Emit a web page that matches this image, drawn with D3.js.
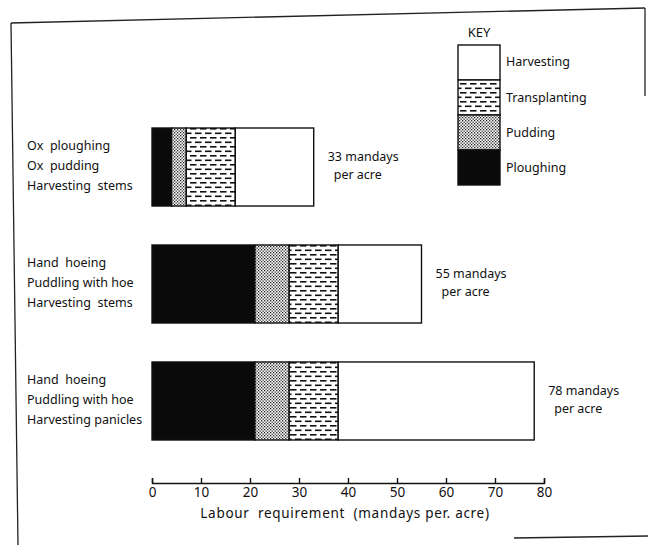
<!DOCTYPE html>
<html>
<head>
<meta charset="utf-8">
<script src="https://cdn.jsdelivr.net/npm/d3@7"></script>
<style>
  html, body { margin: 0; padding: 0; background: #fff; }
  svg text { font-family: "Noto Sans", "DejaVu Sans", sans-serif; fill: #111; }
</style>
</head>
<body>
<div id="chart"></div>
<script>
{
  const width = 648;
  const height = 545;

  // systems (rows), top to bottom
  const systems = ["ox", "hoe_stems", "hoe_panicles"];
  const systemLabels = [
    ["Ox  ploughing", "Ox  pudding", "Harvesting  stems"],
    ["Hand  hoeing", "Puddling with hoe", "Harvesting  stems"],
    ["Hand  hoeing", "Puddling with hoe", "Harvesting panicles"]
  ];

  // operations, stacked left to right
  const operations = ["Ploughing", "Pudding", "Transplanting", "Harvesting"];
  const ploughing = [4, 21, 21];
  const pudding = [3, 7, 7];
  const transplanting = [10, 10, 10];
  const harvesting = [16, 17, 40];
  const totals = [33, 55, 78];

  const xTicks = [0, 10, 20, 30, 40, 50, 60, 70, 80];
  const keyOrder = ["Harvesting", "Transplanting", "Pudding", "Ploughing"];

  const svg = d3.select("#chart")
    .append("svg")
    .attr("width", width)
    .attr("height", height);

  const defs = svg.append("defs");

  // stipple for pudding
  const dots = defs.append("pattern")
    .attr("id", "dots")
    .attr("width", 3)
    .attr("height", 3)
    .attr("patternUnits", "userSpaceOnUse");
  dots.append("rect").attr("width", 3).attr("height", 3).attr("fill", "#fff");
  dots.append("rect").attr("x", 0).attr("y", 0).attr("width", 1.3).attr("height", 1.3).attr("fill", "#222");
  dots.append("rect").attr("x", 1.5).attr("y", 1.5).attr("width", 1.3).attr("height", 1.3).attr("fill", "#222");

  // broken horizontal dashes for transplanting
  const dashes = defs.append("pattern")
    .attr("id", "dashes")
    .attr("width", 10)
    .attr("height", 9)
    .attr("patternUnits", "userSpaceOnUse");
  dashes.append("rect").attr("width", 10).attr("height", 9).attr("fill", "#fff");
  dashes.append("rect").attr("x", 0).attr("y", 2).attr("width", 6.5).attr("height", 1.6).attr("fill", "#111");
  dashes.append("rect").attr("x", 5).attr("y", 6.5).attr("width", 6.5).attr("height", 1.6).attr("fill", "#111");
  dashes.append("rect").attr("x", -5).attr("y", 6.5).attr("width", 6.5).attr("height", 1.6).attr("fill", "#111");

  const fills = {
    Ploughing: "#0a0a0a",
    Pudding: "url(#dots)",
    Transplanting: "url(#dashes)",
    Harvesting: "#fff"
  };

  // page frame, as in the scanned figure
  const frame = svg.append("g")
    .attr("fill", "none")
    .attr("stroke", "#222")
    .attr("stroke-width", 1.3);
  frame.append("path").attr("d", "M11,23 L645,8");
  frame.append("path").attr("d", "M11,23 L18,545");
  frame.append("path").attr("d", "M645,8 L645,96");
  frame.append("path").attr("d", "M514,538 L648,536");

  const x = d3.scaleLinear().domain([0, 80]).range([152, 544]);
  const y = d3.scaleBand()
    .domain(systems)
    .range([108.5, 459.5])
    .paddingInner(0.333)
    .paddingOuter(0.1667);

  const rows = systems.map((s, i) => ({
    Ploughing: ploughing[i],
    Pudding: pudding[i],
    Transplanting: transplanting[i],
    Harvesting: harvesting[i],
    system: s
  }));
  const stack = d3.stack().keys(operations)(rows);

  const gBars = svg.append("g");
  stack.forEach(layer => {
    gBars.selectAll(null)
      .data(layer)
      .enter()
      .append("rect")
      .attr("x", d => x(d[0]))
      .attr("y", d => y(d.data.system))
      .attr("width", d => x(d[1]) - x(d[0]))
      .attr("height", y.bandwidth())
      .attr("fill", fills[layer.key])
      .attr("stroke", "#111")
      .attr("stroke-width", 1.4);
  });

  // row labels on the left
  const lineGap = 20;
  systems.forEach((s, i) => {
    const cy = y(s) + y.bandwidth() / 2;
    svg.append("text")
      .attr("x", 27)
      .attr("y", cy - lineGap)
      .attr("font-size", 12.5)
      .attr("dominant-baseline", "middle")
      .selectAll("tspan")
      .data(systemLabels[i])
      .enter()
      .append("tspan")
      .attr("x", 27)
      .attr("dy", (d, j) => j === 0 ? 0 : lineGap)
      .style("white-space", "pre")
      .text(d => d);

    // totals on the right
    const tx = x(totals[i]) + 14;
    svg.append("text")
      .attr("x", tx)
      .attr("y", cy - 9)
      .attr("font-size", 12.5)
      .attr("dominant-baseline", "middle")
      .text(totals[i] + " mandays");
    svg.append("text")
      .attr("x", tx + 6)
      .attr("y", cy + 9)
      .attr("font-size", 12.5)
      .attr("dominant-baseline", "middle")
      .text("per acre");
  });

  // axis
  const axis = svg.append("g")
    .attr("transform", "translate(0,483)")
    .call(d3.axisBottom(x).tickValues(xTicks).tickSize(-5).tickPadding(4));
  axis.selectAll("path, line").attr("stroke", "#111").attr("stroke-width", 1.4);
  axis.selectAll("text")
    .attr("font-size", 13.5)
    .style("font-family", "\"Noto Sans\", sans-serif")
    .attr("fill", "#111");

  svg.append("text")
    .attr("x", 345)
    .attr("y", 514)
    .attr("text-anchor", "middle")
    .attr("dominant-baseline", "middle")
    .attr("font-size", 13.5)
    .attr("letter-spacing", 0.7)
    .style("white-space", "pre")
    .text("Labour  requirement  (mandays per. acre)");

  // key
  const keyX = 458, keyW = 42, keyTop = 45, keyH = 35;
  const keyY = d3.scaleBand().domain(keyOrder).range([keyTop, keyTop + keyH * keyOrder.length]);

  svg.append("text")
    .attr("x", keyX + keyW / 2)
    .attr("y", 34)
    .attr("text-anchor", "middle")
    .attr("dominant-baseline", "middle")
    .attr("font-size", 13)
    .text("KEY");

  const gKey = svg.append("g");
  gKey.selectAll("rect")
    .data(keyOrder)
    .enter()
    .append("rect")
    .attr("x", keyX)
    .attr("y", d => keyY(d))
    .attr("width", keyW)
    .attr("height", keyY.bandwidth())
    .attr("fill", d => fills[d])
    .attr("stroke", "#111")
    .attr("stroke-width", 1.4);

  gKey.selectAll("text")
    .data(keyOrder)
    .enter()
    .append("text")
    .attr("x", keyX + keyW + 6)
    .attr("y", (d, i) => keyY(d) + keyY.bandwidth() / 2 + (i === 0 ? 0 : 1))
    .attr("dominant-baseline", "middle")
    .attr("font-size", 12.5)
    .text(d => d);
}
</script>
</body>
</html>
